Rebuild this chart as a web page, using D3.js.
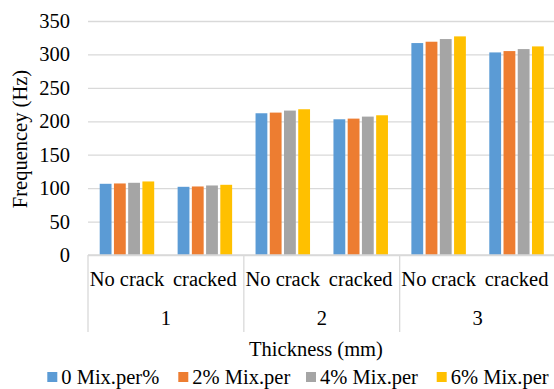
<!DOCTYPE html>
<html>
<head>
<meta charset="utf-8">
<script src="https://cdn.jsdelivr.net/npm/d3@7"></script>
<style>
  html, body { margin: 0; padding: 0; background: #fff; }
</style>
</head>
<body>
<svg id="chart" width="554" height="389"></svg>
<script>
// Frequency of specimens by thickness, crack state and mix percentage
const thickness = ["1", "2", "3"];
const conditions = ["No crack", "cracked"];
const seriesNames = ["0 Mix.per%", "2% Mix.per", "4% Mix.per", "6% Mix.per"];
const seriesColors = ["#5B9BD5", "#ED7D31", "#A5A5A5", "#FFC000"];
const yTicks = [0, 50, 100, 150, 200, 250, 300, 350];

// one value per (thickness, condition) pair, in order
const mix0 = [106.5, 102, 212, 203, 317, 303];
const mix2 = [107, 102.5, 213, 204, 319, 305];
const mix4 = [108, 104, 216, 207, 323, 308];
const mix6 = [110, 105, 218, 209, 327, 312];
const seriesValues = [mix0, mix2, mix4, mix6];

// category keys "thickness|condition"
const categories = [];
thickness.forEach(t => conditions.forEach(c => categories.push(t + "|" + c)));

const serif = "'Liberation Serif', 'Times New Roman', 'DejaVu Serif', serif";
const svg = d3.select("#chart").style("font-family", serif);
const plotLeft = 88, plotRight = 555.5, plotTop = 21, plotBottom = 255;
const fontSize = 20.5;

const x0 = d3.scaleBand().domain(categories).range([plotLeft, plotRight]).padding(0);
const inner = 54.5;
const x1 = d3.scaleBand().domain(d3.range(seriesNames.length))
  .range([(x0.bandwidth() - inner) / 2, (x0.bandwidth() + inner) / 2])
  .paddingInner(0.17).paddingOuter(0);
const y = d3.scaleLinear().domain([0, 350]).range([plotBottom, plotTop]);

// horizontal gridlines
svg.append("g")
  .attr("transform", `translate(${plotLeft},0)`)
  .call(d3.axisLeft(y).tickValues(yTicks).tickSize(-(plotRight - plotLeft)).tickFormat(""))
  .call(g => g.select(".domain").remove())
  .call(g => g.selectAll(".tick line").attr("stroke", "#d9d9d9").attr("stroke-width", 1.3));

// y tick labels
svg.append("g")
  .attr("transform", `translate(${plotLeft},0)`)
  .call(d3.axisLeft(y).tickValues(yTicks).tickSize(0).tickPadding(18))
  .style("font-family", serif)
  .attr("font-size", fontSize)
  .call(g => g.select(".domain").remove())
  .call(g => g.selectAll("text").attr("fill", "#000"));

// bars
const rows = categories.map((c, i) => ({ key: c, values: seriesValues.map(s => s[i]) }));
svg.append("g").selectAll("g")
  .data(rows).join("g")
  .attr("transform", d => `translate(${x0(d.key)},0)`)
  .selectAll("rect")
  .data(d => d.values.map((v, k) => ({ k, v })))
  .join("rect")
  .attr("x", d => x1(d.k))
  .attr("width", x1.bandwidth())
  .attr("y", d => y(d.v))
  .attr("height", d => y(0) - y(d.v))
  .attr("fill", d => seriesColors[d.k]);

// category axis line and group separators
const axisG = svg.append("g");
axisG.append("line")
  .attr("x1", plotLeft).attr("x2", plotRight).attr("y1", plotBottom).attr("y2", plotBottom)
  .attr("stroke", "#d9d9d9").attr("stroke-width", 1.3);
const groupW = x0.step() * conditions.length;
d3.range(thickness.length + 1).forEach(i => {
  const gx = plotLeft + i * groupW;
  axisG.append("line")
    .attr("x1", gx).attr("x2", gx).attr("y1", plotBottom).attr("y2", 332)
    .attr("stroke", "#d9d9d9").attr("stroke-width", 1.3);
});

// condition labels
svg.append("g").selectAll("text")
  .data(categories).join("text")
  .attr("x", d => x0(d) + x0.bandwidth() / 2)
  .attr("y", 286)
  .attr("text-anchor", "middle")
  .attr("font-size", fontSize)
  .text(d => d.split("|")[1]);

// thickness labels
svg.append("g").selectAll("text")
  .data(thickness).join("text")
  .attr("x", (d, i) => plotLeft + (i + 0.5) * groupW)
  .attr("y", 325)
  .attr("text-anchor", "middle")
  .attr("font-size", fontSize)
  .text(d => d);

// axis titles
svg.append("text")
  .attr("x", 316).attr("y", 356)
  .attr("text-anchor", "middle")
  .attr("font-size", fontSize)
  .text("Thickness (mm)");

svg.append("text")
  .attr("transform", "translate(27,139) rotate(-90)")
  .attr("text-anchor", "middle")
  .attr("font-size", fontSize)
  .text("Frequencey (Hz)");

// legend
const legendX = [47.3, 178.3, 306, 436.7];
const legend = svg.append("g").selectAll("g")
  .data(seriesNames).join("g")
  .attr("transform", (d, i) => `translate(${legendX[i]},0)`);
legend.append("rect")
  .attr("x", 0).attr("y", 372).attr("width", 10).attr("height", 10)
  .attr("fill", (d, i) => seriesColors[i]);
legend.append("text")
  .attr("x", 14).attr("y", 384)
  .attr("font-size", fontSize)
  .text(d => d);
</script>
</body>
</html>
